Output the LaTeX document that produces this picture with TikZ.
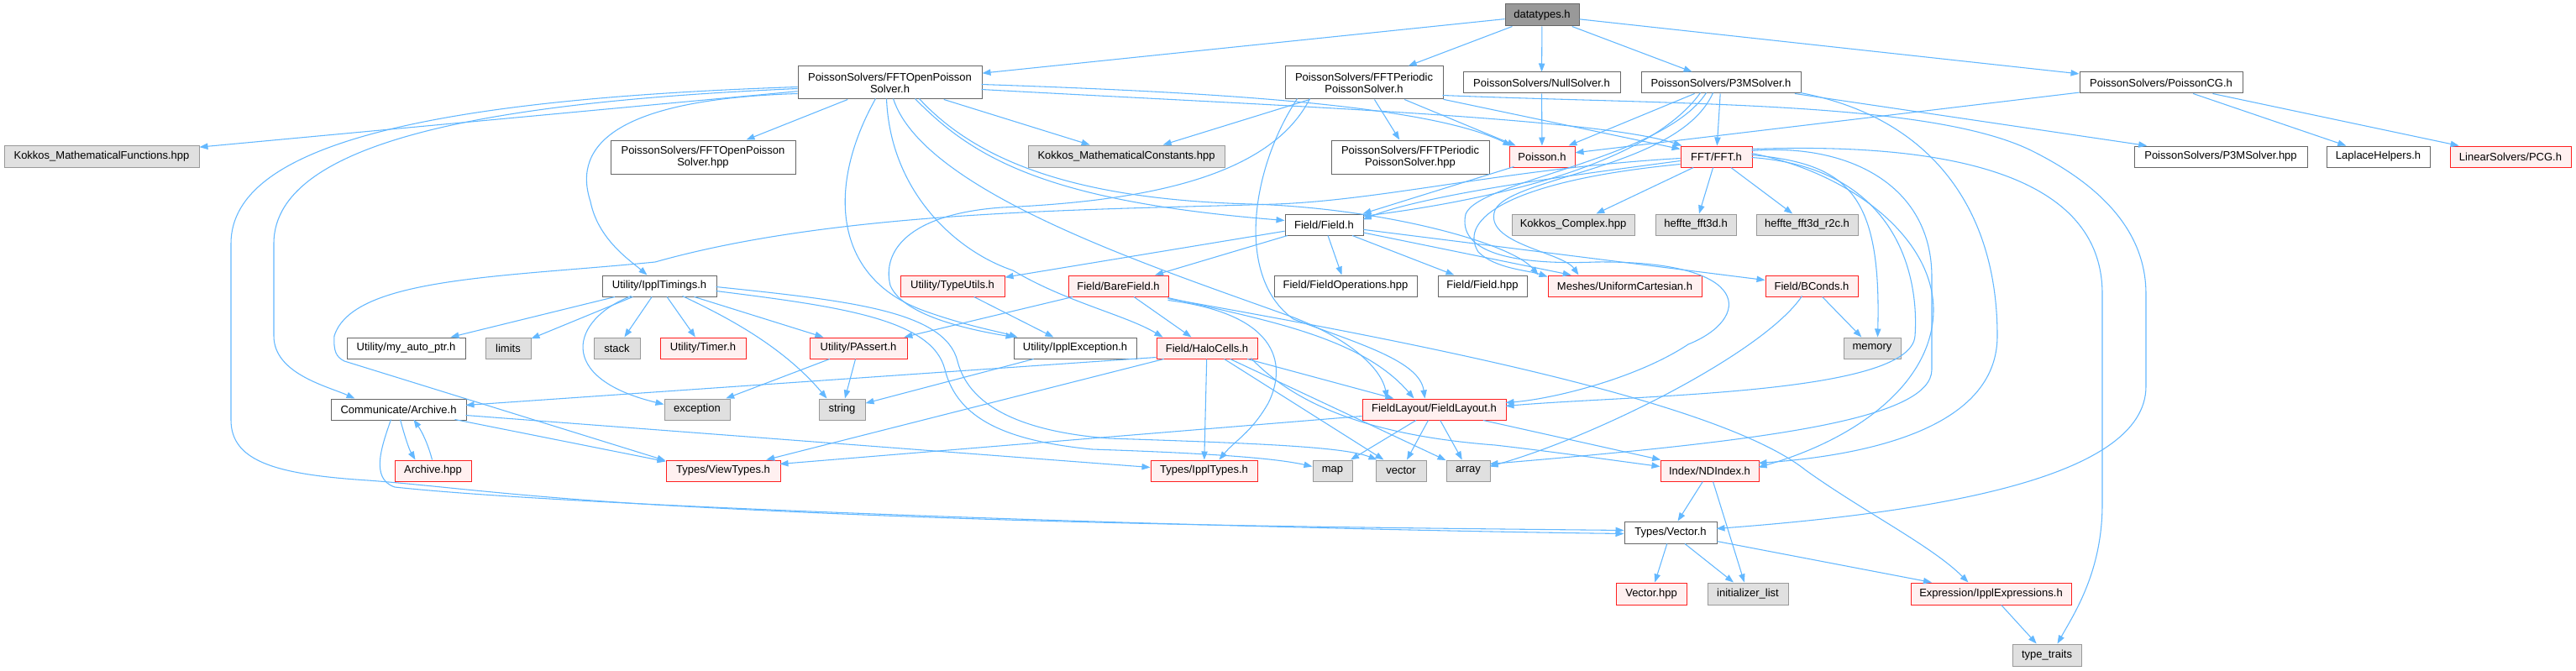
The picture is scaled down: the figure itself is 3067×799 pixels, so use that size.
\documentclass[tikz,border=0pt]{standalone}
\usepackage{fontspec}
\setmainfont{Liberation Sans}
\usetikzlibrary{arrows.meta}
\definecolor{edgeblue}{HTML}{63B8FF}
\definecolor{nodegray}{HTML}{666666}
\definecolor{nodered}{HTML}{FF2020}
\definecolor{redfill}{HTML}{FFF0F0}
\definecolor{grayfill}{HTML}{E0E0E0}
\definecolor{graybd}{HTML}{999999}
\definecolor{darkfill}{HTML}{999999}
\newcommand{\mknode}[7]{%
  \pgfmathsetmacro{\mkw}{(#5-#3)*0.75}%
  \pgfmathsetmacro{\mkh}{(#6-#4)*0.75}%
  \node[#1, minimum width=\mkw pt, minimum height=\mkh pt] (#2) at ({(#3+#5)/2},{(#4+#6)/2}) {#7};}
\begin{document}
\begin{tikzpicture}[x=0.75pt,y=-0.75pt,
  base/.style={rectangle, inner sep=0pt, line width=0.75pt, align=center, font=\fontsize{9.75}{10.5}\selectfont},
  wn/.style={base, draw=nodegray, fill=white},
  rn/.style={base, draw=nodered, fill=redfill},
  gn/.style={base, draw=graybd, fill=grayfill},
  dn/.style={base, draw=nodegray, fill=darkfill},
  edg/.style={draw=edgeblue, line width=0.8pt, -{Triangle[length=7.5pt,width=5.5pt]}}]
\useasboundingbox (0,0) rectangle (3067,799);
\fill[white] (0,0) rectangle (3067,799);

% ---------- nodes ----------
\mknode{dn}{dt}{1792}{5}{1880}{31}{datatypes.h}
\mknode{wn}{fop}{950}{79}{1169}{118}{PoissonSolvers/FFTOpenPoisson\\Solver.h}
\mknode{wn}{fper}{1530}{79}{1718}{118}{PoissonSolvers/FFTPeriodic\\PoissonSolver.h}
\mknode{wn}{nul}{1742}{86}{1929}{111}{PoissonSolvers/NullSolver.h}
\mknode{wn}{p3m}{1954}{86}{2144}{111}{PoissonSolvers/P3MSolver.h}
\mknode{wn}{pcg}{2476}{86}{2670}{111}{PoissonSolvers/PoissonCG.h}
\mknode{gn}{kmf}{5}{173}{237}{199}{Kokkos\_MathematicalFunctions.hpp}
\mknode{wn}{fophpp}{727}{167}{947}{207}{PoissonSolvers/FFTOpenPoisson\\Solver.hpp}
\mknode{gn}{kmc}{1224}{173}{1458}{199}{Kokkos\_MathematicalConstants.hpp}
\mknode{wn}{fperhpp}{1585}{167}{1773}{207}{PoissonSolvers/FFTPeriodic\\PoissonSolver.hpp}
\mknode{rn}{poi}{1797}{174}{1875}{199}{Poisson.h}
\mknode{rn}{fft}{2001}{174}{2086}{199}{FFT/FFT.h}
\mknode{wn}{p3mhpp}{2541}{174}{2747}{199}{PoissonSolvers/P3MSolver.hpp}
\mknode{wn}{lap}{2770}{174}{2893}{199}{LaplaceHelpers.h}
\mknode{rn}{lpcg}{2917}{174}{3061}{199}{LinearSolvers/PCG.h}
\mknode{wn}{field}{1530}{255}{1623}{280}{Field/Field.h}
\mknode{gn}{kcx}{1800}{255}{1946}{280}{Kokkos\_Complex.hpp}
\mknode{gn}{hf3}{1971}{255}{2067}{280}{heffte\_fft3d.h}
\mknode{gn}{hf3r}{2091}{255}{2212}{280}{heffte\_fft3d\_r2c.h}
\mknode{wn}{ipt}{717}{328}{853}{353}{Utility/IpplTimings.h}
\mknode{rn}{tut}{1072}{328}{1196}{353}{Utility/TypeUtils.h}
\mknode{rn}{bare}{1272}{328}{1391}{353}{Field/BareField.h}
\mknode{wn}{fops}{1517}{328}{1687}{353}{Field/FieldOperations.hpp}
\mknode{wn}{fhpp}{1712}{328}{1818}{353}{Field/Field.hpp}
\mknode{rn}{ucart}{1843}{328}{2026}{353}{Meshes/UniformCartesian.h}
\mknode{rn}{bc}{2102}{328}{2212}{353}{Field/BConds.h}
\mknode{wn}{myap}{413}{402}{554}{427}{Utility/my\_auto\_ptr.h}
\mknode{gn}{lim}{578}{402}{632}{427}{limits}
\mknode{gn}{stk}{707}{402}{762}{427}{stack}
\mknode{rn}{tim}{786}{402}{888}{427}{Utility/Timer.h}
\mknode{rn}{pas}{964}{402}{1080}{427}{Utility/PAssert.h}
\mknode{wn}{iex}{1207}{402}{1353}{427}{Utility/IpplException.h}
\mknode{rn}{halo}{1377}{402}{1497}{427}{Field/HaloCells.h}
\mknode{gn}{mem}{2195}{402}{2263}{427}{memory}
\mknode{wn}{arch}{394}{475}{555}{500}{Communicate/Archive.h}
\mknode{gn}{exc}{791}{475}{869}{500}{exception}
\mknode{gn}{str}{975}{475}{1030}{500}{string}
\mknode{rn}{flay}{1622}{475}{1793}{500}{FieldLayout/FieldLayout.h}
\mknode{rn}{archpp}{470}{548}{561}{573}{Archive.hpp}
\mknode{rn}{vt}{793}{548}{929}{573}{Types/ViewTypes.h}
\mknode{rn}{ipty}{1370}{548}{1497}{573}{Types/IpplTypes.h}
\mknode{gn}{map}{1563}{548}{1610}{573}{map}
\mknode{gn}{vec}{1638}{548}{1698}{573}{vector}
\mknode{gn}{arr}{1722}{548}{1774}{573}{array}
\mknode{rn}{ndi}{1977}{548}{2094}{573}{Index/NDIndex.h}
\mknode{wn}{tvec}{1934}{621}{2044}{647}{Types/Vector.h}
\mknode{rn}{vhpp}{1924}{694}{2008}{720}{Vector.hpp}
\mknode{gn}{inil}{2033}{694}{2129}{720}{initializer\_list}
\mknode{rn}{iexpr}{2275}{694}{2466}{720}{Expression/IpplExpressions.h}
\mknode{gn}{tt}{2396}{767}{2478}{793}{type\_traits}

% ---------- straight edges ----------
\draw[edg] (dt) -- (fop);
\draw[edg] (dt) -- (fper);
\draw[edg] (dt) -- (nul);
\draw[edg] (dt) -- (p3m);
\draw[edg] (dt) -- (pcg);
\draw[edg] (fop) -- (kmf);
\draw[edg] (fop) -- (fophpp);
\draw[edg] (fop) -- (kmc);
\draw[edg] (fper) -- (fperhpp);
\draw[edg] (fper) -- (kmc);
\draw[edg] (fper) -- (poi);
\draw[edg] (fper) -- (fft);
\draw[edg] (nul) -- (poi);
\draw[edg] (p3m) -- (poi);
\draw[edg] (p3m) -- (fft);
\draw[edg] (p3m) -- (p3mhpp);
\draw[edg] (pcg) -- (poi);
\draw[edg] (pcg) -- (lap);
\draw[edg] (pcg) -- (lpcg);
\draw[edg] (fft) -- (kcx);
\draw[edg] (fft) -- (hf3);
\draw[edg] (fft) -- (hf3r);
\draw[edg] (field) -- (tut);
\draw[edg] (field) -- (bare);
\draw[edg] (field) -- (fops);
\draw[edg] (field) -- (fhpp);
\draw[edg] (field) -- (ucart);
\draw[edg] (field) -- (bc);
\draw[edg] (ipt) -- (myap);
\draw[edg] (ipt) -- (lim);
\draw[edg] (ipt) -- (stk);
\draw[edg] (ipt) -- (tim);
\draw[edg] (ipt) -- (pas);
\draw[edg] (tut) -- (iex);
\draw[edg] (bare) -- (pas);
\draw[edg] (bare) -- (halo);
\draw[edg] (pas) -- (exc);
\draw[edg] (pas) -- (str);
\draw[edg] (iex) -- (str);
\draw[edg] (halo) -- (ipty);
\draw[edg] (halo) -- (vt);
\draw[edg] (halo) -- (flay);
\draw[edg] (halo) -- (vec);
\draw[edg] (halo) -- (arr);
\draw[edg] (bc) -- (mem);
\draw[edg] (flay) -- (map);
\draw[edg] (flay) -- (vec);
\draw[edg] (flay) -- (arr);
\draw[edg] (flay) -- (ndi);
\draw[edg] (ndi) -- (tvec);
\draw[edg] (ndi) -- (inil);
\draw[edg] (tvec) -- (vhpp);
\draw[edg] (tvec) -- (inil);
\draw[edg] (tvec) -- (iexpr);
\draw[edg] (iexpr) -- (tt);

% ---------- routed edges ----------
% FFTOpenPoissonSolver.h
\draw[edg] ([shift={(0,33)}]fop.north west) .. controls (740,118) and (680,170) .. (703,240) .. controls (712,285) and (750,310) .. ([shift={(54,0)}]ipt.north west);
\draw[edg] ([shift={(0,27)}]fop.north west) .. controls (620,120) and (326,160) .. (326,290) -- (326,400) .. controls (326,445) and (390,460) .. ([shift={(29,0)}]arch.north west);
\draw[edg] ([shift={(0,25)}]fop.north west) .. controls (520,118) and (275,170) .. (275,290) -- (275,500) .. controls (275,550) and (330,565) .. (438,572) .. controls (520,578) and (600,590) .. (780,601) .. controls (1200,625) and (1600,628) .. ([shift={(0,11)}]tvec.north west);
\draw[edg] ([shift={(219,22)}]fop.north west) .. controls (1450,110) and (1700,125) .. ([shift={(3,0)}]poi.north west);
\draw[edg] ([shift={(219,28)}]fop.north west) .. controls (1500,125) and (1900,140) .. ([shift={(2,0)}]fft.north west);
\draw[edg] ([shift={(140,39)}]fop.north west) .. controls (1160,190) and (1250,240) .. ([shift={(0,8)}]field.north west);
\draw[edg] ([shift={(145,39)}]fop.north west) .. controls (1170,200) and (1300,238) .. (1490,243) .. controls (1650,248) and (1800,290) .. ([shift={(-11,0)}]ucart.north west);
\draw[edg] ([shift={(114,39)}]fop.north west) .. controls (1100,230) and (1380,320) .. (1540,378) .. controls (1610,405) and (1645,440) .. ([shift={(30,0)}]flay.north west);
\draw[edg] ([shift={(106,39)}]fop.north west) .. controls (1060,230) and (1140,300) .. (1206,322) .. controls (1270,360) and (1340,375) .. ([shift={(8,0)}]halo.north west);
\draw[edg] ([shift={(93,39)}]fop.north west) .. controls (985,220) and (990,330) .. (1100,370) .. controls (1150,388) and (1190,395) .. ([shift={(5,0)}]iex.north west);
% FFTPeriodicPoissonSolver.h
\draw[edg] ([shift={(15,39)}]fper.north west) .. controls (1490,200) and (1470,330) .. (1540,380) .. controls (1620,410) and (1690,430) .. ([shift={(75,0)}]flay.north west);
\draw[edg] ([shift={(30,39)}]fper.north west) .. controls (1510,215) and (1350,240) .. (1193,247) .. controls (1080,255) and (1050,300) .. (1060,340) .. controls (1075,375) and (1150,392) .. ([shift={(1,0)}]iex.north west);
\draw[edg] ([shift={(188,35)}]fper.north west) .. controls (2000,125) and (2300,120) .. (2420,180) .. controls (2520,230) and (2555,290) .. (2555,350) -- (2555,460) .. controls (2555,570) and (2300,610) .. ([shift={(110,9)}]tvec.north west);
% P3MSolver.h
\draw[edg] ([shift={(71,25)}]p3m.north west) .. controls (1960,200) and (1760,240) .. ([shift={(93,3)}]field.north west);
\draw[edg] ([shift={(86,25)}]p3m.north west) .. controls (2000,200) and (1800,210) .. (1780,250) .. controls (1765,290) and (1860,300) .. ([shift={(37,0)}]ucart.north west);
\draw[edg] ([shift={(78,25)}]p3m.north west) .. controls (1980,190) and (1760,215) .. (1745,255) .. controls (1735,300) and (1800,316) .. (1900,312) .. controls (2090,310) and (2085,380) .. (2010,410) .. controls (1950,450) and (1850,475) .. ([shift={(171,5)}]flay.north west);
\draw[edg] ([shift={(190,25)}]p3m.north west) .. controls (2300,140) and (2378,250) .. (2378,400) .. controls (2378,500) and (2250,540) .. ([shift={(117,4)}]ndi.north west);
% Poisson.h
\draw[edg] ([shift={(6,25)}]poi.north west) -- ([shift={(93,0)}]field.north west);
% FFT.h
\draw[edg] ([shift={(0,18)}]fft.north west) .. controls (1900,205) and (1700,230) .. ([shift={(93,7)}]field.north west);
\draw[edg] ([shift={(85,11)}]fft.north west) .. controls (2200,195) and (2240,230) .. ([shift={(41,0)}]mem.north west);
\draw[edg] ([shift={(85,6)}]fft.north west) .. controls (2200,170) and (2300,220) .. (2300,330) -- (2300,440) .. controls (2300,500) and (2100,525) .. ([shift={(52,5)}]arr.north west);
\draw[edg] ([shift={(85,9)}]fft.north west) .. controls (2200,205) and (2300,280) .. (2302,367) .. controls (2303,450) and (2220,520) .. ([shift={(117,9)}]ndi.north west);
\draw[edg] ([shift={(85,14)}]fft.north west) .. controls (2260,200) and (2285,330) .. (2280,400) .. controls (2275,470) and (1950,470) .. ([shift={(171,9)}]flay.north west);
\draw[edg] ([shift={(0,22)}]fft.north west) .. controls (1800,215) and (1735,260) .. (1760,300) .. controls (1780,320) and (1820,322) .. ([shift={(0,2)}]ucart.north west);
\draw[edg] ([shift={(85,4)}]fft.north west) .. controls (2300,170) and (2503,200) .. (2503,350) -- (2503,600) .. controls (2503,680) and (2470,730) .. ([shift={(54,0)}]tt.north west);
\draw[edg] ([shift={(0,15)}]fft.north west) .. controls (1800,200) and (1650,238) .. (1520,243) .. controls (1300,250) and (1000,250) .. (780,312) .. controls (600,330) and (420,330) .. (398,400) .. controls (397,418) and (400,425) .. (410,430) -- ([shift={(0,1)}]vt.north west);
% IpplTimings.h
\draw[edg] ([shift={(96,25)}]ipt.north west) .. controls (860,375) and (930,410) .. ([shift={(10,0)}]str.north west);
\draw[edg] ([shift={(35,25)}]ipt.north west) .. controls (680,380) and (660,450) .. ([shift={(0,7)}]exc.north west);
\draw[edg] ([shift={(136,19)}]ipt.north west) .. controls (1000,365) and (1110,380) .. (1125,440) .. controls (1140,500) and (1200,525) .. (1300,535) .. controls (1450,540) and (1520,546) .. ([shift={(0,8)}]map.north west);
\draw[edg] ([shift={(136,14)}]ipt.north west) .. controls (1010,358) and (1125,370) .. (1140,430) .. controls (1155,490) and (1230,515) .. (1320,522) .. controls (1500,528) and (1600,532) .. ([shift={(2,0)}]vec.north west);
% BareField.h
\draw[edg] ([shift={(119,27)}]bare.north west) .. controls (1500,380) and (1620,400) .. ([shift={(62,0)}]flay.north west);
\draw[edg] ([shift={(119,30)}]bare.north west) .. controls (1530,375) and (1530,440) .. (1510,480) .. controls (1490,515) and (1470,525) .. ([shift={(82,0)}]ipty.north west);
\draw[edg] ([shift={(119,28)}]bare.north west) .. controls (1700,410) and (2050,480) .. (2150,560) .. controls (2220,610) and (2300,650) .. ([shift={(69,0)}]iexpr.north west);
% HaloCells.h
\draw[edg] ([shift={(113,25)}]halo.north west) .. controls (1550,490) and (1650,520) .. (1780,530) .. controls (1850,538) and (1920,548) .. ([shift={(0,8)}]ndi.north west);
\draw[edg] ([shift={(0,24)}]halo.north west) -- ([shift={(161,8)}]arch.north west);
% Archive
\draw[edg] ([shift={(83,25)}]arch.north west) .. controls (482,520) and (487,535) .. ([shift={(25,0)}]archpp.north west);
\draw[edg] ([shift={(45,0)}]archpp.north west) .. controls (510,530) and (503,515) .. ([shift={(99,25)}]arch.north west);
\draw[edg] ([shift={(148,25)}]arch.north west) -- ([shift={(0,2)}]vt.north west);
\draw[edg] ([shift={(161,20)}]arch.north west) -- ([shift={(0,9)}]ipty.north west);
\draw[edg] ([shift={(72,25)}]arch.north west) .. controls (455,530) and (440,570) .. (470,580) .. controls (700,605) and (1500,630) .. ([shift={(0,15)}]tvec.north west);
% BConds, FieldLayout
\draw[edg] ([shift={(44,25)}]bc.north west) .. controls (2100,420) and (1900,520) .. ([shift={(52,8)}]arr.north west);
\draw[edg] ([shift={(0,21)}]flay.north west) -- ([shift={(136,5)}]vt.north west);
\end{tikzpicture}
\end{document}
